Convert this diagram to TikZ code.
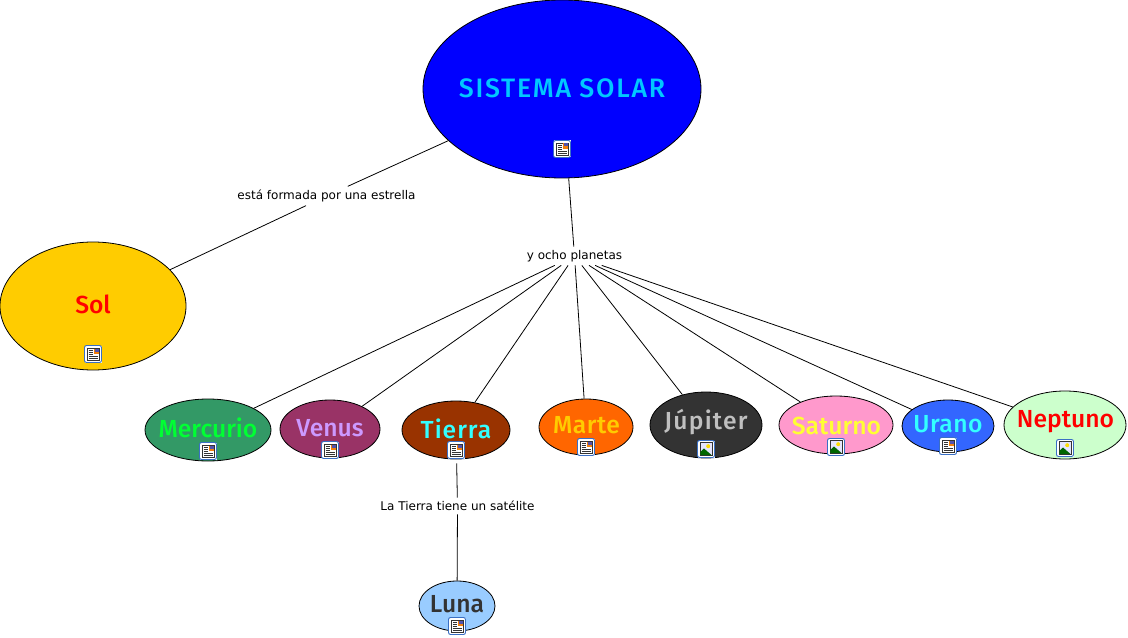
\documentclass[tikz,border=0pt]{standalone}
\usepackage{fontspec}
\usetikzlibrary{shapes.geometric}
\setmainfont{DejaVu Sans}
\newfontfamily\comicfont{Fira Sans}[UprightFont=*,BoldFont=* Medium]
\definecolor{skytext}{HTML}{00C8FF}
\definecolor{sunfill}{HTML}{FFCC00}
\definecolor{merfill}{HTML}{339966}
\definecolor{merText}{HTML}{00FF33}
\definecolor{venfill}{HTML}{993366}
\definecolor{vent}{HTML}{CC99FF}
\definecolor{tierfill}{HTML}{993300}
\definecolor{cyant}{HTML}{33FFFF}
\definecolor{marfill}{HTML}{FF6600}
\definecolor{jupfill}{HTML}{333333}
\definecolor{jupt}{HTML}{C0C0C0}
\definecolor{satfill}{HTML}{FF99CC}
\definecolor{satt}{HTML}{FFFF33}
\definecolor{urafill}{HTML}{3366FF}
\definecolor{nepfill}{HTML}{CCFFCC}
\definecolor{lunfill}{HTML}{99CCFF}
\definecolor{icoedge}{HTML}{3A6FC4}
\definecolor{icoline}{HTML}{333333}
\tikzset{
  x=0.75pt,y=-0.75pt,
  planet/.style n args={3}{ellipse,draw=black,line width=0.6pt,fill=#1,inner sep=0pt,minimum width=#2*0.75pt,minimum height=#3*0.75pt},
  ptext/.style={text=#1,font=\comicfont\bfseries\fontsize{18.5}{20}\selectfont,inner sep=0pt},
  linklabel/.style={font=\fontsize{9}{11}\selectfont,text=black,inner sep=2.5pt},
  link/.style={draw=black,line width=0.6pt},
  pics/docicon/.style={code={
    \fill[white] (-8.5,-8.5) rectangle (8.5,8.5);
    \draw[icoedge,rounded corners=1.5pt,line width=0.7pt] (-8.5,-8.5) rectangle (8.5,8.5);
    \draw[icoline,line width=0.4pt] (-5.5,-6) rectangle (6,6.5);
    \fill[orange!80!brown] (0.5,-5.5) rectangle (5.5,0);
    \fill[blue!35!gray] (2,-5.5) rectangle (5.5,-2.5);
    \foreach \yy in {-4,-2,0}{\draw[icoline,line width=0.4pt] (-4.5,\yy) -- (-0.5,\yy);}
    \draw[icoline,line width=0.4pt] (-4.5,2.2) -- (5,2.2) (-4.5,4.4) -- (5,4.4);
  }},
  pics/imgicon/.style={code={
    \fill[white] (-8.5,-8.5) rectangle (8.5,8.5);
    \draw[icoedge,rounded corners=1.5pt,line width=0.7pt] (-8.5,-8.5) rectangle (8.5,8.5);
    \draw[icoline,fill=blue!10,line width=0.4pt] (-6,-6.5) rectangle (6,6.5);
    \fill[yellow!80!orange] (2.2,-2.8) circle (2);
    \fill[green!40!black] (-5.7,6.2) -- (-5.7,3) -- (-2,-0.5) -- (5.7,6.2) -- cycle;
  }}
}
\begin{document}
\begin{tikzpicture}
\useasboundingbox (0,0) rectangle (1128,638);
% ellipses
\node[planet={blue}{278}{178}] (sistema) at (562,89) {};
\node[planet={sunfill}{186}{128}] (sol) at (93,306) {};
\node[planet={merfill}{126}{62}] (mercurio) at (208,430) {};
\node[planet={venfill}{100}{58}] (venus) at (330,429) {};
\node[planet={tierfill}{108}{58}] (tierra) at (456,430) {};
\node[planet={marfill}{94}{56}] (marte) at (586,427) {};
\node[planet={jupfill}{112}{66}] (jupiter) at (706,425) {};
\node[planet={satfill}{114}{58}] (saturno) at (836,425) {};
\node[planet={urafill}{92}{52}] (urano) at (948,426) {};
\node[planet={nepfill}{122}{68}] (neptuno) at (1065,425) {};
\node[planet={lunfill}{76}{50}] (luna) at (457,606) {};
% linking phrases
\node[linklabel] (lsol) at (326.5,196) {está formada por una estrella};
\node[linklabel] (lplan) at (574.5,256) {y ocho planetas};
\node[linklabel] (lluna) at (457.5,506) {La Tierra tiene un satélite};
% connectors
\draw[link] (sistema) -- (lsol);
\draw[link] (lsol) -- (sol);
\draw[link] (sistema) -- (lplan);
\foreach \p in {mercurio,venus,tierra,marte,jupiter,saturno,urano,neptuno}{\draw[link] (lplan) -- (\p);}
\draw[link,shorten <=3pt] (tierra) -- (lluna);
\draw[link] (lluna) -- (luna);
% names
\node[ptext=skytext] (tsistema) at (562,88) {\fontsize{20}{20}\selectfont\addfontfeature{LetterSpace=6.5}SISTEMA SOLAR};
\node[ptext=red] (tsol) at (93,304) {Sol};
\node[ptext=merText] (tmercurio) at (208,428) {Mercurio};
\node[ptext=vent] (tvenus) at (330,428) {Venus};
\node[ptext=cyant] (ttierra) at (456,429) {\addfontfeature{LetterSpace=4}Tierra};
\node[ptext=sunfill] (tmarte) at (586.5,425) {\addfontfeature{LetterSpace=2}Marte};
\node[ptext=jupt] (tjupiter) at (706,422.5) {\addfontfeature{LetterSpace=5}Júpiter};
\node[ptext=satt] (tsaturno) at (836.5,425.5) {Saturno};
\node[ptext=cyant] (turano) at (948,424.5) {\addfontfeature{LetterSpace=2}Urano};
\node[ptext=red] (tneptuno) at (1065.5,421.5) {Neptuno};
\node[ptext={black!80}] (tluna) at (457,604) {Luna};
% icons
\pic at (562,149) {docicon};
\pic at (93,354) {docicon};
\pic at (208,451) {docicon};
\pic at (330,450) {docicon};
\pic at (456,450) {docicon};
\pic at (586,447) {docicon};
\pic at (706,449) {imgicon};
\pic at (836,447) {imgicon};
\pic at (948,446) {docicon};
\pic at (1065,448) {imgicon};
\pic at (457,626) {docicon};
\end{tikzpicture}
\end{document}
